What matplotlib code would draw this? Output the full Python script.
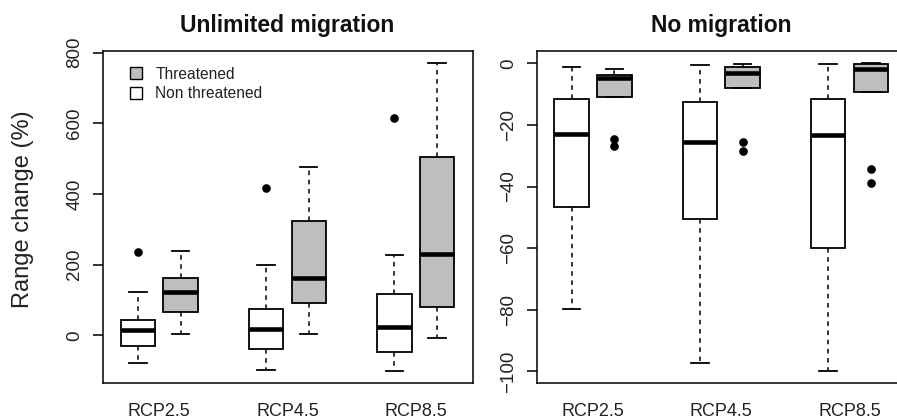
import matplotlib
matplotlib.use('Agg')
import matplotlib.pyplot as plt
from matplotlib.patches import Patch

plt.rcParams['font.family'] = ['Liberation Sans', 'DejaVu Sans']

# ---------------- data ----------------
categories = ['RCP2.5', 'RCP4.5', 'RCP8.5']
legend_labels = ['Threatened', 'Non threatened']

# Unlimited migration - non threatened
unl_nt_whislo = [-78, -97, -100]
unl_nt_q1 = [-31, -38, -46]
unl_nt_med = [14, 17, 23]
unl_nt_q3 = [44, 76, 116]
unl_nt_whishi = [124, 199, 227]
unl_nt_fliers = [[236], [418], [614]]
# Unlimited migration - threatened
unl_t_whislo = [4, 4, -8]
unl_t_q1 = [67, 91, 79]
unl_t_med = [124, 162, 231]
unl_t_q3 = [161, 323, 505]
unl_t_whishi = [240, 476, 770]
unl_t_fliers = [[], [], []]

# No migration - non threatened
nom_nt_whislo = [-79.7, -97.2, -99.8]
nom_nt_q1 = [-46.6, -50.6, -60.0]
nom_nt_med = [-23.0, -25.6, -23.4]
nom_nt_q3 = [-11.6, -12.7, -11.6]
nom_nt_whishi = [-1.2, -0.5, -0.1]
nom_nt_fliers = [[], [], []]
# No migration - threatened
nom_t_whislo = [-11.0, -8.0, -9.3]
nom_t_q1 = [-11.0, -8.0, -9.3]
nom_t_med = [-4.7, -3.1, -1.7]
nom_t_q3 = [-3.8, -1.3, -0.1]
nom_t_whishi = [-1.7, -0.2, 0.0]
nom_t_fliers = [[-24.6, -26.9], [-25.6, -28.6], [-34.2, -38.8]]

left_yticks = [0, 200, 400, 600, 800]
right_yticks = [0, -20, -40, -60, -80, -100]

GREY = '#BEBEBE'
positions = [1, 2, 4, 5, 7, 8]


def make_stats(wl, q1, med, q3, wh, fl):
    return [dict(whislo=wl[i], q1=q1[i], med=med[i], q3=q3[i], whishi=wh[i],
                 fliers=fl[i]) for i in range(len(wl))]


def draw(ax, nt, t, yticks):
    s_nt = make_stats(*nt)
    s_t = make_stats(*t)
    stats = []
    for a, b in zip(s_nt, s_t):
        stats += [a, b]
    res = ax.bxp(stats, positions=positions, widths=0.81, capwidths=0.405,
                 patch_artist=True, showfliers=True,
                 boxprops=dict(linewidth=1.3, edgecolor='black'),
                 medianprops=dict(color='black', linewidth=3.3, solid_capstyle='butt'),
                 whiskerprops=dict(color='black', linestyle=(0, (3, 3)), linewidth=1.1),
                 capprops=dict(color='black', linewidth=1.3),
                 flierprops=dict(marker='o', markerfacecolor='black',
                                 markeredgecolor='black', markersize=5.2))
    for i, box in enumerate(res['boxes']):
        box.set_facecolor('white' if i % 2 == 0 else GREY)
    # R-style 4% axis extension
    vals = []
    for s in stats:
        vals += [s['whislo'], s['whishi']] + list(s['fliers'])
    lo, hi = min(vals), max(vals)
    r = hi - lo
    ax.set_ylim(lo - 0.04 * r, hi + 0.04 * r)
    ax.set_xlim(0.18, 8.845)
    ax.set_yticks(yticks)
    ax.set_yticklabels([str(v).replace('-', '\u2212') for v in yticks])
    ax.set_xticks([1.5, 4.5, 7.5])
    ax.set_xticklabels(categories)
    ax.tick_params(axis='x', length=0, pad=14.5, labelsize=13, colors='#222222')
    ax.tick_params(axis='y', length=7.2, width=1.1, pad=7, labelsize=13.5,
                   labelcolor='#222222')
    for lab in ax.get_yticklabels():
        lab.set_rotation(90)
        lab.set_va('center')
        lab.set_ha('right')
    for sp in ax.spines.values():
        sp.set_linewidth(1.1)


fig = plt.figure(figsize=(8.97, 4.19), dpi=100)
axL = fig.add_axes([103 / 897, 1 - 383 / 419, 370 / 897, 332 / 419])
axR = fig.add_axes([536.7 / 897, 1 - 383 / 419, 370.3 / 897, 332 / 419])

draw(axL,
     (unl_nt_whislo, unl_nt_q1, unl_nt_med, unl_nt_q3, unl_nt_whishi, unl_nt_fliers),
     (unl_t_whislo, unl_t_q1, unl_t_med, unl_t_q3, unl_t_whishi, unl_t_fliers),
     left_yticks)
draw(axR,
     (nom_nt_whislo, nom_nt_q1, nom_nt_med, nom_nt_q3, nom_nt_whishi, nom_nt_fliers),
     (nom_t_whislo, nom_t_q1, nom_t_med, nom_t_q3, nom_t_whishi, nom_t_fliers),
     right_yticks)

handles = [Patch(facecolor=GREY, edgecolor='black', linewidth=1.0),
           Patch(facecolor='white', edgecolor='black', linewidth=1.0)]
axL.legend(handles, legend_labels, loc='upper left', bbox_to_anchor=(0.073, 0.953),
           frameon=False, fontsize=11.2, handlelength=0.77, handleheight=0.77,
           handletextpad=0.85, labelspacing=0.3, borderpad=0, borderaxespad=0,
           labelcolor='#222222')

fig.text(287 / 897, 1 - 32 / 419, 'Unlimited migration', ha='center', va='baseline',
         fontsize=16.5, fontweight='bold', color='#111111')
fig.text(721.7 / 897, 1 - 32 / 419, 'No migration', ha='center', va='baseline',
         fontsize=16.5, fontweight='bold', color='#111111')
fig.text(23 / 897, 1 - 209 / 419, 'Range change (%)', rotation=90, ha='center',
         va='center', fontsize=17, color='#222222')

fig.savefig('out.png', dpi=100)
